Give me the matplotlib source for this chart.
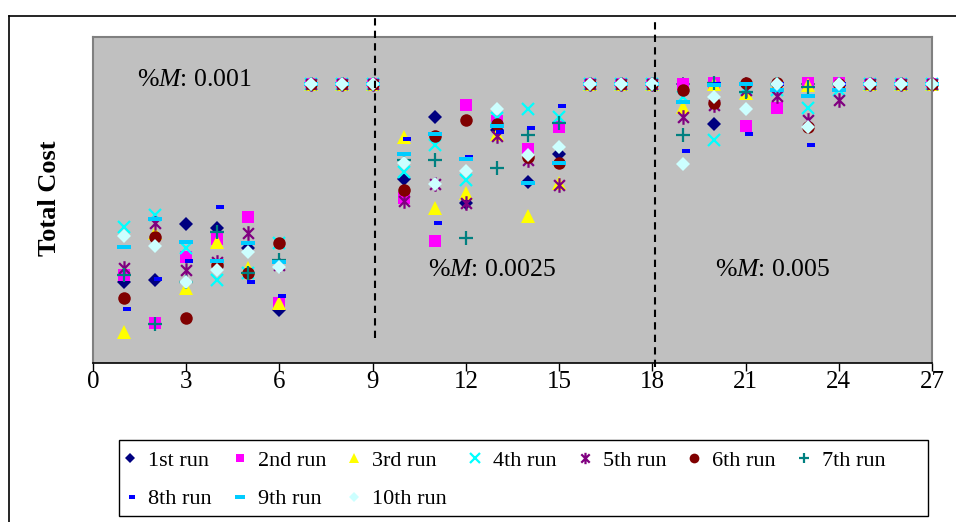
import numpy as np
import matplotlib
matplotlib.use("Agg")
import matplotlib.pyplot as plt
from matplotlib.path import Path
from matplotlib.lines import Line2D
from matplotlib.patches import Rectangle

plt.rcParams['font.family'] = ['Liberation Serif', 'DejaVu Serif']
plt.rcParams['mathtext.fontset'] = 'custom'
plt.rcParams['mathtext.rm'] = 'Liberation Serif'
plt.rcParams['mathtext.it'] = 'Liberation Serif:italic'

# ---------------- data ----------------
iterations = list(range(1, 28))
run_labels = ["1st run", "2nd run", "3rd run", "4th run", "5th run",
              "6th run", "7th run", "8th run", "9th run", "10th run"]

run1 = [81, 83, 139, 135, 115, 53, 279, 279, 279, 184, 246, 160, 233, 181, 209,
        279, 279, 279, 279, 239, 279, 279, 279, 279, 279, 279, 279]
run2 = [88, 40, 106, 124, 146, 60, 279, 279, 279, 165, 122, 258, 242, 214, 236,
        279, 279, 279, 279, 280, 237, 255, 280, 280, 279, 279, 279]
run3 = [31, 130, 75, 121, 95, 60, 279, 279, 279, 226, 155, 170, 229, 147, 180,
        279, 279, 279, 256, 279, 270, 279, 278, 279, 279, 279, 279]
run4 = [136, 148, 115, 83, 90, 120, 279, 279, 279, 191, 218, 183, 245, 254, 246,
        279, 279, 279, 266, 223, 275, 273, 255, 273, 279, 279, 279]
run5 = [95, 140, 93, 101, 130, 98, 279, 279, 279, 162, 179, 160, 227, 203, 178,
        279, 279, 279, 246, 258, 273, 267, 243, 263, 279, 279, 279]
run6 = [65, 126, 45, 98, 90, 120, 279, 279, 279, 173, 227, 243, 239, 206, 200,
        279, 279, 279, 273, 260, 280, 280, 236, 279, 279, 279, 279]
run7 = [88, 39, 81, 131, 90, 103, 279, 279, 279, 203, 203, 125, 195, 228, 240,
        279, 279, 279, 228, 280, 271, 279, 276, 279, 279, 279, 279]
run8 = [54, 84, 102, 156, 81, 67, 279, 279, 279, 224, 140, 206, 231, 235, 257,
        279, 279, 279, 212, 279, 229, 279, 218, 279, 279, 279, 279]
run9 = [116, 144, 121, 102, 120, 101, 279, 279, 279, 209, 229, 204, 237, 180, 200,
        279, 279, 279, 261, 278, 279, 273, 267, 273, 279, 279, 279]
run10 = [127, 117, 81, 93, 111, 96, 279, 279, 279, 200, 179, 192, 254, 208, 216,
         279, 279, 279, 199, 266, 254, 279, 236, 279, 279, 279, 279]
runs = [run1, run2, run3, run4, run5, run6, run7, run8, run9, run10]

xticks = list(range(0, 28, 3))
region_labels = [r"%$M$: 0.001", r"%$M$: 0.0025", r"%$M$: 0.005"]
region_bounds = [9.07, 18.1]

# ---------------- markers ----------------
star_path = Path([(-1, -1), (1, 1), (-1, 1), (1, -1), (0, -1.35), (0, 1.35)],
                 [Path.MOVETO, Path.LINETO, Path.MOVETO, Path.LINETO, Path.MOVETO, Path.LINETO])
short_dash = Path([(-1, -2), (7, -2), (7, 2), (-1, 2), (-1, -2)],
                  [Path.MOVETO, Path.LINETO, Path.LINETO, Path.LINETO, Path.CLOSEPOLY])
long_dash = Path([(-7, -2), (7, -2), (7, 2), (-7, 2), (-7, -2)],
                 [Path.MOVETO, Path.LINETO, Path.LINETO, Path.LINETO, Path.CLOSEPOLY])

styles = [
    dict(marker='D', color='#000080', ms=6.8, filled=True),
    dict(marker='s', color='#FF00FF', ms=8.2, filled=True),
    dict(marker='^', color='#FFFF00', ms=9.8, filled=True),
    dict(marker='x', color='#00FFFF', ms=8.8, filled=False),
    dict(marker=star_path, color='#800080', ms=10.5, filled=False),
    dict(marker='o', color='#800000', ms=9.0, filled=True),
    dict(marker='+', color='#008080', ms=9.8, filled=False),
    dict(marker=short_dash, color='#0000FF', ms=10.0, filled=True),
    dict(marker=long_dash, color='#00CCFF', ms=10.0, filled=True),
    dict(marker='D', color='#CCFFFF', ms=6.8, filled=True),
]

W, H = 956, 522
fig = plt.figure(figsize=(W / 100, H / 100), dpi=100)
ax = fig.add_axes([93 / W, 1 - 363 / H, (932 - 93) / W, (363 - 37) / H])
ax.set_facecolor('#C0C0C0')

handles = []
for vals, st, lab in zip(runs, styles, run_labels):
    if st['filled']:
        kw = dict(markerfacecolor=st['color'], markeredgecolor=st['color'], markeredgewidth=0)
    else:
        kw = dict(markeredgecolor=st['color'], markeredgewidth=1.6)
    h, = ax.plot(iterations, vals, linestyle='none', marker=st['marker'],
                 markersize=st['ms'], label=lab, clip_on=False, **kw)
    handles.append(h)

ax.set_xlim(0, 27)
ax.set_ylim(0, 326)
ax.set_xticks(xticks)
ax.set_xticklabels([str(t) for t in xticks], fontsize=18)
ax.set_yticks([])
ax.tick_params(axis='x', direction='out', length=6, width=1, pad=0, colors='black')
for s in ['top', 'left', 'right']:
    ax.spines[s].set_color('#808080')
    ax.spines[s].set_linewidth(1.5)
ax.spines['bottom'].set_color('black')
ax.spines['bottom'].set_linewidth(1.2)

# region dividers (dashed)
for xb, ybot in zip(region_bounds, [25, -4]):
    ax.plot([xb, xb], [ybot, 346], color='black', lw=1.5, dashes=(3.5, 2.5),
            clip_on=False, zorder=5)

# region labels
ax.text(1.42, 283, region_labels[0], fontsize=18.5, va='center', ha='left')
ax.text(10.78, 93, region_labels[1], fontsize=18.5, va='center', ha='left')
ax.text(20.02, 93, region_labels[2], fontsize=18.5, va='center', ha='left')

fig.text(50 / W, 1 - 198 / H, "Total Cost", rotation=90, fontsize=19,
         fontweight='bold', ha='center', va='center')

# outer frame (top & left)
fig.add_artist(Line2D([9 / W, 9 / W], [0, 1 - 16 / H], color='black', lw=1.2,
                      transform=fig.transFigure))
fig.add_artist(Line2D([9 / W, 1], [1 - 16 / H, 1 - 16 / H], color='black', lw=1.2,
                      transform=fig.transFigure))

# legend box
fig.add_artist(Rectangle((119 / W, 1 - 516 / H), (928 - 119) / W, (516 - 440) / H,
                         transform=fig.transFigure, facecolor='white',
                         edgecolor='black', lw=1.0, zorder=0))

# legend: row-major order for 7 columns
order = [0, 7, 1, 8, 2, 9, 3, 4, 5, 6]
leg = fig.legend([handles[i] for i in order], [run_labels[i] for i in order],
                 loc='upper left', bbox_to_anchor=(121 / W, 1 - 450 / H),
                 ncol=7, fontsize=16, frameon=False, markerscale=0.78,
                 handlelength=0.82, handletextpad=0.4, columnspacing=0.85,
                 borderpad=0, borderaxespad=0, labelspacing=0.82)

fig.savefig("out.png", dpi=100)
